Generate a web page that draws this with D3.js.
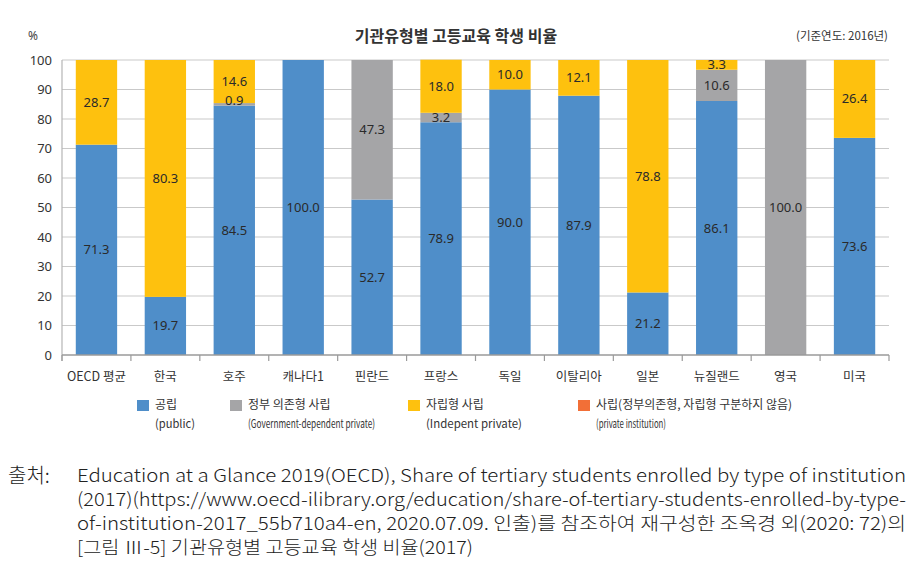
<!DOCTYPE html>
<html><head><meta charset="utf-8">
<script src="https://cdn.jsdelivr.net/npm/d3@7"></script>
<style>body{margin:0;background:#fff}svg{display:block}</style>
</head><body><svg id="c" width="915" height="582"></svg>
<script>
const categories = ["OECD 평균","한국","호주","캐나다1","핀란드","프랑스","독일","이탈리아","일본","뉴질랜드","영국","미국"];
const publicVals = [71.3,19.7,84.5,100.0,52.7,78.9,90.0,87.9,21.2,86.1,0,73.6];
const govDepVals = [0,0,0.9,0,47.3,3.2,0,0,0,10.6,100.0,0];
const indepVals = [28.7,80.3,14.6,0,0,18.0,10.0,12.1,78.8,3.3,0,26.4];
const privateVals = [0,0,0,0,0,0,0,0,0,0,0,0];
const yTicks = [0,10,20,30,40,50,60,70,80,90,100];
const seriesKeys = ["public","govdep","indep","private"];
const seriesKo = ["공립","정부 의존형 사립","자립형 사립","사립(정부의존형, 자립형 구분하지 않음)"];
const seriesEn = ["(public)","(Government-dependent private)","(Indepent private)","(private institution)"];
const colors = ["#4f8ec9","#a5a5a7","#fec10e","#f26f37"];

const svg = d3.select("#c");
const KR = "'Noto Sans CJK KR', 'Noto Sans', sans-serif";
const L=62,R=889,T=60,B=355;
const x = d3.scaleBand().domain(categories).range([L,R]).paddingInner(0.4).paddingOuter(0.2);
const y = d3.scaleLinear().domain([0,100]).range([B,T]);
const color = d3.scaleOrdinal().domain(seriesKeys).range(colors);

const rows = categories.map((c,i)=>({cat:c, public:publicVals[i], govdep:govDepVals[i], indep:indepVals[i], private:privateVals[i]}));
const stacked = d3.stack().keys(seriesKeys)(rows);

// gridlines
svg.append("g").selectAll("line").data(yTicks.filter(t=>t>0)).join("line")
  .attr("x1",L).attr("x2",R).attr("y1",d=>y(d)).attr("y2",d=>y(d))
  .attr("stroke","#c9c9c9").attr("stroke-width",1.2);
// left axis line
svg.append("line").attr("x1",L).attr("x2",L).attr("y1",T).attr("y2",B+6).attr("stroke","#b5b5b5").attr("stroke-width",1.2);
// y tick labels
svg.append("g").selectAll("text").data(yTicks).join("text")
  .attr("x",52).attr("y",d=>y(d)).attr("dy","0.35em").attr("text-anchor","end")
  .attr("font-family","'Noto Sans', sans-serif").attr("font-size",13).attr("fill","#333").text(d=>d);

// bars
const g = svg.append("g");
stacked.forEach(s=>{
  g.append("g").selectAll("rect").data(s.filter(d=>d[1]-d[0]>0)).join("rect")
    .attr("x",d=>x(d.data.cat)).attr("width",x.bandwidth())
    .attr("y",d=>y(d[1])).attr("height",d=>y(d[0])-y(d[1]))
    .attr("fill",color(s.key));
});
// value labels
stacked.forEach(s=>{
  g.append("g").selectAll("text").data(s.filter(d=>d[1]-d[0]>0)).join("text")
    .attr("x",d=>x(d.data.cat)+x.bandwidth()/2)
    .attr("y",d=>{ const v=d[1]-d[0]; let m=(y(d[0])+y(d[1]))/2; if(v<2) m=y(d[1])-3; return m; })
    .attr("dy","0.35em").attr("text-anchor","middle")
    .attr("font-family","'Noto Sans', sans-serif").attr("font-size",13).attr("fill","#2a2a2a")
    .text(d=>(d[1]-d[0]).toFixed(1));
});

// x axis
svg.append("line").attr("x1",L).attr("x2",R).attr("y1",B).attr("y2",B).attr("stroke","#9a9a9a").attr("stroke-width",1.3);
const bounds = categories.map(c=>x(c)-x.step()*x.paddingInner()/2).concat([R]);
svg.append("g").selectAll("line").data(bounds).join("line")
  .attr("x1",d=>d).attr("x2",d=>d).attr("y1",B).attr("y2",B+6).attr("stroke","#9a9a9a").attr("stroke-width",1.2);
svg.append("g").selectAll("text").data(categories).join("text")
  .attr("x",d=>x(d)+x.bandwidth()/2).attr("y",377).attr("dy","0.35em").attr("text-anchor","middle")
  .attr("font-family",KR).attr("font-size",12.5).attr("fill","#333").text(d=>d);

// title etc
svg.append("text").attr("x",456).attr("y",36).attr("dy","0.35em").attr("text-anchor","middle")
  .attr("font-family",KR).attr("font-size",16).attr("font-weight","bold").attr("fill","#333").text("기관유형별 고등교육 학생 비율");
svg.append("text").attr("x",28).attr("y",36).attr("dy","0.35em")
  .attr("font-family","'Noto Sans', sans-serif").attr("font-size",12).attr("fill","#444").text("%");
svg.append("text").attr("x",888).attr("y",36).attr("dy","0.35em").attr("text-anchor","end")
  .attr("font-family",KR).attr("font-size",11.5).attr("fill","#333").text("(기준연도: 2016년)");

// legend
const legX = [137,230,408,578];
const enLen = [40,127,96,70];
const leg = svg.append("g").selectAll("g").data(seriesKeys).join("g").attr("transform",(d,i)=>`translate(${legX[i]},0)`);
leg.append("rect").attr("x",0).attr("y",400).attr("width",12).attr("height",11).attr("fill",(d,i)=>colors[i]);
leg.append("text").attr("x",18).attr("y",405).attr("dy","0.35em")
  .attr("font-family",KR).attr("font-size",12).attr("fill","#333").text((d,i)=>seriesKo[i]);
leg.append("text").attr("x",18).attr("y",424).attr("dy","0.35em")
  .attr("font-family",KR).attr("font-size",11.5).attr("fill","#333")
  .attr("textLength",(d,i)=>enLen[i]).attr("lengthAdjust","spacingAndGlyphs").text((d,i)=>seriesEn[i]);

// source
const srcLines = [
 "Education at a Glance 2019(OECD), Share of tertiary students enrolled by type of institution",
 "(2017)(https://www.oecd-ilibrary.org/education/share-of-tertiary-students-enrolled-by-type-",
 "of-institution-2017_55b710a4-en, 2020.07.09. 인출)를 참조하여 재구성한 조옥경 외(2020: 72)의",
 "[그림  Ⅲ-5] 기관유형별 고등교육 학생 비율(2017)"
];
const srcLen = [829,829,829,396];
svg.append("text").attr("x",8).attr("y",476).attr("dy","0.35em")
  .attr("font-family",KR).attr("font-size",20).attr("font-weight",300).attr("fill","#222")
  .text("출처:");
svg.append("g").selectAll("text").data(srcLines).join("text")
  .attr("x",77).attr("y",(d,i)=>476+i*24).attr("dy","0.35em")
  .attr("font-family",KR).attr("font-size",18).attr("font-weight",300).attr("fill","#222")
  .attr("textLength",(d,i)=>srcLen[i]).attr("lengthAdjust","spacingAndGlyphs").text(d=>d);
</script></body></html>
